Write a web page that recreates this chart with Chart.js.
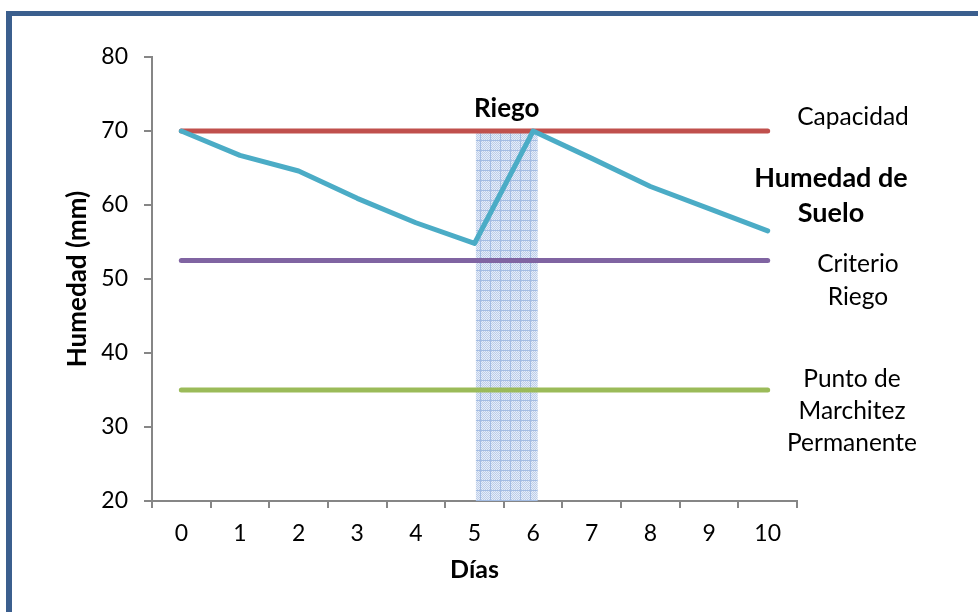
<!DOCTYPE html>
<html>
<head>
<meta charset="utf-8">
<script src="https://cdn.jsdelivr.net/npm/chart.js@4.4.1/dist/chart.umd.min.js"></script>
<style>
  html, body { margin: 0; padding: 0; background: #fff; overflow: hidden; }
  #wrap { position: relative; width: 978px; height: 612px; }
  #marco { position: absolute; left: 6px; top: 11px; width: 1100px; height: 800px;
           border-left: 6px solid #3b5f8e; border-top: 5px solid #3b5f8e; }
  canvas { position: absolute; left: 0; top: 0; }
</style>
</head>
<body>
<div id="wrap">
  <div id="marco"></div>
  <canvas id="chart"></canvas>
</div>
<script>
const dias = [0, 1, 2, 3, 4, 5, 6, 7, 8, 9, 10];
const humedadSuelo = [70, 66.7, 64.6, 60.9, 57.6, 54.8, 70, 66.3, 62.5, 59.5, 56.5];
const capacidad = 70;
const criterioRiego = 52.5;
const puntoMarchitez = 35;
const riegoDesde = 5.02;
const riegoHasta = 6.08;
const notas = [['Capacidad'], ['Humedad de', 'Suelo'], ['Criterio', 'Riego'], ['Punto de', 'Marchitez', 'Permanente']];

const gris = '#868686';
const fuente = 'Lato, "Open Sans", sans-serif';

// trama punteada del riego
function trama() {
  const c = document.createElement('canvas');
  c.width = 10; c.height = 10;
  const g = c.getContext('2d');
  g.fillStyle = '#e6edf8';
  g.fillRect(0, 0, 10, 10);
  g.fillStyle = '#bccde9';
  for (let y = 0; y < 10; y++) {
    for (let x = (y % 2); x < 10; x += 2) g.fillRect(x, y, 1, 1);
  }
  g.fillStyle = '#a3bce3';
  g.fillRect(0, 0, 1, 10);
  g.fillRect(0, 0, 10, 1);
  return g.createPattern(c, 'repeat');
}

const constante = v => dias.filter((d, i) => i === 0 || i === dias.length - 1).map(d => ({ x: d, y: v }));

const textos = {
  id: 'textos',
  afterDraw(chart) {
    const ctx = chart.ctx;
    const xs = chart.scales.x, ys = chart.scales.y;
    ctx.save();
    ctx.fillStyle = '#000';
    ctx.textAlign = 'center';
    ctx.textBaseline = 'middle';
    ctx.font = 'bold 26px ' + fuente;
    ctx.fillText('Riego', xs.getPixelForValue((riegoDesde + riegoHasta) / 2), ys.getPixelForValue(capacidad) - 22);

    const pos = [
      { x: 853, y: 117, h: 33, bold: false, size: 24.5 },
      { x: 831, y: 178, h: 35, bold: true, size: 27 },
      { x: 858, y: 264, h: 33, bold: false, size: 24.5 },
      { x: 852, y: 379, h: 32, bold: false, size: 24.5 }
    ];
    notas.forEach((lineas, i) => {
      const p = pos[i];
      ctx.font = (p.bold ? 'bold ' : '') + p.size + 'px ' + fuente;
      lineas.forEach((t, j) => ctx.fillText(t, p.x, p.y + j * p.h));
    });
    ctx.restore();
  }
};

new Chart(document.getElementById('chart'), {
  type: 'line',
  data: {
    datasets: [
      {
        label: 'Humedad de Suelo',
        data: dias.map((d, i) => ({ x: d, y: humedadSuelo[i] })),
        borderColor: '#4bacc6',
        borderWidth: 5,
        borderCapStyle: 'round',
        borderJoinStyle: 'round',
        pointRadius: 0,
        order: 0
      },
      {
        label: 'Capacidad',
        data: constante(capacidad),
        borderColor: '#c0504d',
        borderWidth: 5,
        borderCapStyle: 'round',
        pointRadius: 0,
        order: 1
      },
      {
        label: 'Criterio Riego',
        data: constante(criterioRiego),
        borderColor: '#8064a2',
        borderWidth: 5,
        borderCapStyle: 'round',
        pointRadius: 0,
        order: 1
      },
      {
        label: 'Punto de Marchitez Permanente',
        data: constante(puntoMarchitez),
        borderColor: '#9bbb59',
        borderWidth: 5,
        borderCapStyle: 'round',
        pointRadius: 0,
        order: 1
      },
      {
        label: 'Riego',
        data: [{ x: riegoDesde, y: capacidad }, { x: riegoHasta, y: capacidad }],
        borderWidth: 0,
        borderColor: 'rgba(0,0,0,0)',
        backgroundColor: trama(),
        fill: 'start',
        pointRadius: 0,
        order: 5
      }
    ]
  },
  options: {
    responsive: true,
    maintainAspectRatio: false,
    animation: false,
    layout: { padding: { left: 0, right: 181, top: 57, bottom: 20 } },
    plugins: { legend: { display: false }, tooltip: { enabled: false } },
    scales: {
      x: {
        type: 'linear',
        min: -0.5,
        max: 10.5,
        afterBuildTicks: s => { s.ticks = dias.map(d => ({ value: d })); },
        afterFit: s => { s.height = 91; },
        grid: { offset: true, drawOnChartArea: false, color: gris, lineWidth: 2, tickLength: 7 },
        border: { color: gris, width: 2 },
        ticks: { color: '#000', font: { family: fuente, size: 23 }, padding: 12, maxRotation: 0 },
        title: { display: true, text: 'Días', color: '#000', font: { family: fuente, size: 25, weight: 'bold' }, padding: { top: 0, bottom: 7 } }
      },
      y: {
        min: 20,
        max: 80,
        afterFit: s => { s.width = 152; },
        grid: { drawOnChartArea: false, color: gris, lineWidth: 2, tickLength: 8 },
        border: { color: gris, width: 2 },
        ticks: { stepSize: 10, color: '#000', font: { family: fuente, size: 23 }, padding: 16 },
        title: { display: true, text: 'Humedad (mm)', color: '#000', font: { family: fuente, size: 26, weight: 'bold' }, padding: { top: 62, bottom: 0 } }
      }
    }
  },
  plugins: [textos]
});
</script>
</body>
</html>
